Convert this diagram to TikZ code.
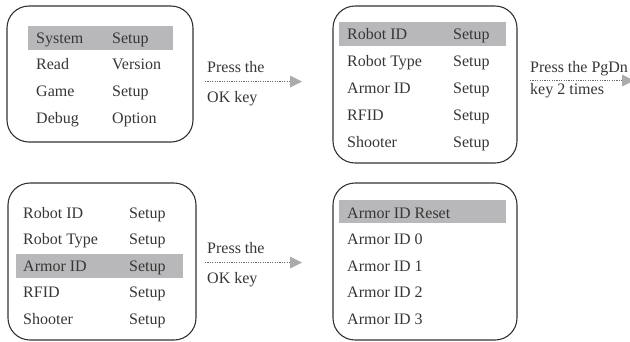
\documentclass[tikz,border=0pt]{standalone}
\usepackage{fontspec}
\setmainfont{Liberation Serif}
\definecolor{txt}{HTML}{363636}
\definecolor{hl}{HTML}{B8B8BA}
\definecolor{frame}{HTML}{333333}
\definecolor{tipc}{HTML}{ABABAB}
\definecolor{dotc}{HTML}{6A6A6A}
\tikzset{
  menubox/.style={draw=frame, line width=1.1pt, rounded corners=22pt, inner sep=0pt},
  hlbar/.style={fill=hl, draw=none, inner sep=0pt},
  item/.style={anchor=base west, inner sep=0pt, text=txt, font=\fontsize{16}{19}\selectfont},
  flow/.style={dotc, line width=0.7pt, dash pattern=on 1.2pt off 1.2pt},
  flowtip/.style={fill=tipc, draw=none}
}
\begin{document}
\begin{tikzpicture}[x=1pt, y=-1pt]
\useasboundingbox (0,0) rectangle (630,341);
\clip (0,0) rectangle (630,341);
% ---------- box 1 ----------
\node[menubox, minimum width=186pt, minimum height=136pt] (b1) at (100,74) {};
\node[hlbar, minimum width=145pt, minimum height=24pt] (h1) at (100.5,38) {};
\node[item] (b1r1a) at (36,43) {System};
\node[item] (b1r1b) at (112,43) {Setup};
\node[item] (b1r2a) at (36,69.7) {Read};
\node[item] (b1r2b) at (112,69.7) {Version};
\node[item] (b1r3a) at (36,96.4) {Game};
\node[item] (b1r3b) at (112,96.4) {Setup};
\node[item] (b1r4a) at (36,123) {Debug};
\node[item] (b1r4b) at (112,123) {Option};
% ---------- arrow 1 ----------
\node[item] (t1a) at (207,72) {Press the};
\node[item] (t1b) at (207,102) {OK key};
\coordinate (a1s) at (205,81.5);
\coordinate (a1e) at (290,81.5);
\draw[flow] (a1s) -- (a1e);
\fill[flowtip] (a1e) ++(0,-6) -- ++(12,6) -- ++(-12,6) -- cycle;
% ---------- box 2 ----------
\node[menubox, minimum width=184pt, minimum height=157pt] (b2) at (425,84.5) {};
\node[hlbar, minimum width=167pt, minimum height=24pt] (h2) at (422.5,34) {};
\node[item] (b2r1a) at (347,39) {Robot ID};
\node[item] (b2r1b) at (453,39) {Setup};
\node[item] (b2r2a) at (347,66) {Robot Type};
\node[item] (b2r2b) at (453,66) {Setup};
\node[item] (b2r3a) at (347,93) {Armor ID};
\node[item] (b2r3b) at (453,93) {Setup};
\node[item] (b2r4a) at (347,120) {RFID};
\node[item] (b2r4b) at (453,120) {Setup};
\node[item] (b2r5a) at (347,147) {Shooter};
\node[item] (b2r5b) at (453,147) {Setup};
% ---------- arrow 2 ----------
\node[item] (t2a) at (530,72) {Press the PgDn};
\node[item] (t2b) at (530,94) {key 2 times};
\coordinate (a2s) at (530,80.5);
\coordinate (a2e) at (622,80.5);
\draw[flow] (a2s) -- (a2e);
\fill[flowtip] (a2e) ++(0,-6) -- ++(12,6) -- ++(-12,6) -- cycle;
% ---------- box 3 ----------
\node[menubox, minimum width=188pt, minimum height=157pt] (b3) at (102,261.5) {};
\node[hlbar, minimum width=167pt, minimum height=24pt] (h3) at (99.5,266) {};
\node[item] (b3r1a) at (23,218) {Robot ID};
\node[item] (b3r1b) at (129,218) {Setup};
\node[item] (b3r2a) at (23,244.5) {Robot Type};
\node[item] (b3r2b) at (129,244.5) {Setup};
\node[item] (b3r3a) at (23,271) {Armor ID};
\node[item] (b3r3b) at (129,271) {Setup};
\node[item] (b3r4a) at (23,297.5) {RFID};
\node[item] (b3r4b) at (129,297.5) {Setup};
\node[item] (b3r5a) at (23,324) {Shooter};
\node[item] (b3r5b) at (129,324) {Setup};
% ---------- arrow 3 ----------
\node[item] (t3a) at (207,253) {Press the};
\node[item] (t3b) at (207,283) {OK key};
\coordinate (a3s) at (205,262.5);
\coordinate (a3e) at (290,262.5);
\draw[flow] (a3s) -- (a3e);
\fill[flowtip] (a3e) ++(0,-6) -- ++(12,6) -- ++(-12,6) -- cycle;
% ---------- box 4 ----------
\node[menubox, minimum width=184pt, minimum height=157pt] (b4) at (425,261.5) {};
\node[hlbar, minimum width=167pt, minimum height=23pt] (h4) at (422.5,211.5) {};
\node[item] (b4r1) at (347,218) {Armor ID Reset};
\node[item] (b4r2) at (347,244.5) {Armor ID 0};
\node[item] (b4r3) at (347,271) {Armor ID 1};
\node[item] (b4r4) at (347,297.5) {Armor ID 2};
\node[item] (b4r5) at (347,324) {Armor ID 3};
\end{tikzpicture}
\end{document}
